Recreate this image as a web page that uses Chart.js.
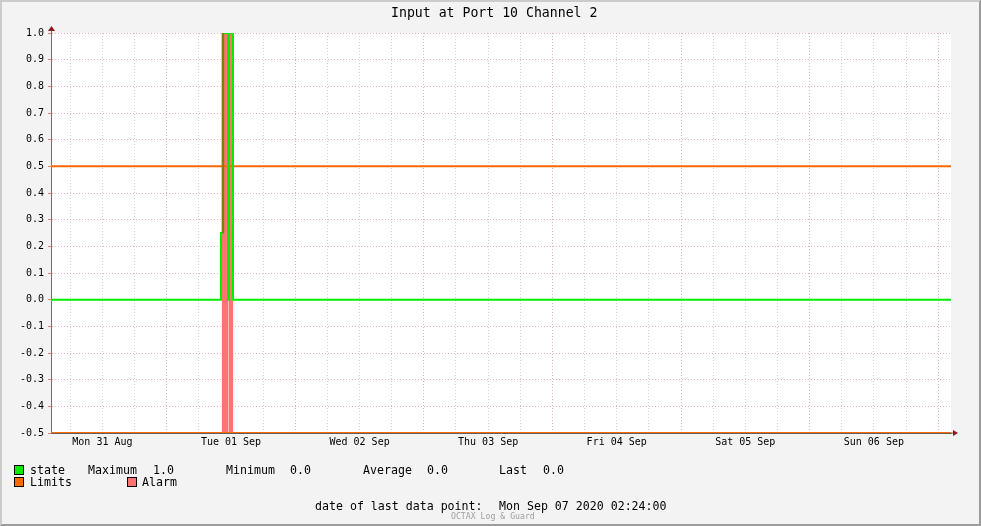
<!DOCTYPE html>
<html>
<head>
<meta charset="utf-8">
<script src="https://cdn.jsdelivr.net/npm/chart.js@4/dist/chart.umd.min.js"></script>
<style>
body { margin: 0; background: #f3f3f3; }
#frame { position: absolute; left: 0; top: 0; width: 981px; height: 526px; box-sizing: border-box;
  border-top: 2px solid #cbcbcb; border-left: 2px solid #cbcbcb; border-right: 2px solid #9c9c9c; border-bottom: 2px solid #9c9c9c; background: #f3f3f3; }
#chart { position: absolute; left: 0; top: 0; }
.t { position: absolute; font-family: "DejaVu Sans Mono", monospace; font-size: 11.6px; line-height: 14px; color: #000; white-space: pre; }
.box { position: absolute; width: 8px; height: 8px; border: 1px solid #000; }
</style>
</head>
<body>
<div id="frame"></div>
<canvas id="chart" width="981" height="526"></canvas>

<div class="t" style="left:391px;top:5px;font-size:13.2px;line-height:16px">Input at Port 10 Channel 2</div>

<div class="box" style="left:14px;top:465px;background:#00ee00"></div>
<div class="t" style="left:30px;top:463px">state</div>
<div class="t" style="left:88px;top:463px">Maximum</div>
<div class="t" style="left:153px;top:463px">1.0</div>
<div class="t" style="left:226px;top:463px">Minimum</div>
<div class="t" style="left:290px;top:463px">0.0</div>
<div class="t" style="left:363px;top:463px">Average</div>
<div class="t" style="left:427px;top:463px">0.0</div>
<div class="t" style="left:499px;top:463px">Last</div>
<div class="t" style="left:543px;top:463px">0.0</div>

<div class="box" style="left:14px;top:477px;background:#ff6a00"></div>
<div class="t" style="left:30px;top:475px">Limits</div>
<div class="box" style="left:127px;top:477px;background:#ff7373"></div>
<div class="t" style="left:142px;top:475px">Alarm</div>

<div class="t" style="left:315px;top:499px">date of last data point:</div>
<div class="t" style="left:499px;top:499px">Mon Sep 07 2020 02:24:00</div>
<div class="t" style="left:451px;top:511px;font-size:8.2px;line-height:10px;color:#a0a0a0">OCTAX Log &amp; Guard</div>

<script>
// hours since start of graph (Mon 31 Aug 02:24)
let stateHours = [0, 31.73, 32.1, 33.04, 33.23, 33.97, 168]
let stateValues = [0, 0.25, 1, 0, 1, 0, 0]

let oliveHours = [32.1, 32.1]
let oliveValues = [0.25, 1]

let alarmHours = [0, 31.9, 33.1, 33.2, 34.0, 168]
let alarmValues = [-0.5, 1, -0.5, 1, -0.5, -0.5]

let limitHours = [0, 168]
let upperLimit = [0.5, 0.5]
let lowerLimit = [-0.5, -0.5]

let dayLabels = ["Mon 31 Aug", "Tue 01 Sep", "Wed 02 Sep", "Thu 03 Sep", "Fri 04 Sep", "Sat 05 Sep", "Sun 06 Sep"]
let firstGridHour = 3.6 // 06:00 on Mon 31 Aug

function toPoints(xs, ys) {
  var pts = []
  for (var i = 0; i < xs.length; i++) {
    pts.push({x: xs[i], y: ys[i]})
  }
  return pts
}

var gridTicks = []
for (var k = 0; firstGridHour + 6 * k <= 168; k++) {
  gridTicks.push({value: firstGridHour + 6 * k})
}

const plotBg = {
  id: 'plotBg',
  beforeDraw(chart) {
    const {ctx, chartArea: a} = chart
    ctx.save()
    ctx.fillStyle = "#ffffff"
    ctx.fillRect(a.left, a.top, a.right - a.left, a.bottom - a.top)
    ctx.restore()
  },
  afterDraw(chart) {
    const {ctx, chartArea: a} = chart
    ctx.save()
    ctx.strokeStyle = "#707070"
    ctx.lineWidth = 1
    ctx.beginPath()
    ctx.moveTo(a.left + 0.5, a.top)
    ctx.lineTo(a.left + 0.5, a.top - 5)
    ctx.moveTo(a.right, a.bottom)
    ctx.lineTo(a.right + 3, a.bottom)
    ctx.stroke()
    ctx.fillStyle = "#8b1a1a"
    ctx.beginPath()
    ctx.moveTo(a.left - 3, a.top - 2)
    ctx.lineTo(a.left + 4, a.top - 2)
    ctx.lineTo(a.left + 0.5, a.top - 7)
    ctx.closePath()
    ctx.fill()
    ctx.beginPath()
    ctx.moveTo(a.right + 2, a.bottom - 3)
    ctx.lineTo(a.right + 2, a.bottom + 3)
    ctx.lineTo(a.right + 7, a.bottom)
    ctx.closePath()
    ctx.fill()
    ctx.restore()
  }
}

new Chart(document.getElementById("chart"), {
  type: 'line',
  data: {
    datasets: [
      { data: toPoints(oliveHours, oliveValues), borderColor: "#808000", borderWidth: 2.5, pointRadius: 0, fill: false },
      { data: toPoints(stateHours, stateValues), borderColor: "#00ee00", borderWidth: 2, stepped: 'before', pointRadius: 0, fill: false },
      { data: toPoints(limitHours, upperLimit), borderColor: "#ff6a00", borderWidth: 2, pointRadius: 0, fill: false },
      { data: toPoints(limitHours, lowerLimit), borderColor: "#ff6a00", borderWidth: 2, pointRadius: 0, fill: false },
      { data: toPoints(alarmHours, alarmValues), borderWidth: 0, borderColor: "rgba(0,0,0,0)", backgroundColor: "#ff7373", stepped: 'before', pointRadius: 0, fill: {value: -0.5} }
    ]
  },
  options: {
    responsive: false,
    animation: false,
    layout: { padding: { top: 33, right: 30, left: 0, bottom: 0 } },
    plugins: { legend: { display: false }, tooltip: { enabled: false } },
    scales: {
      x: {
        type: 'linear', min: 0, max: 168,
        afterFit: (s) => { s.height = 93 },
        afterBuildTicks: (s) => { s.ticks = gridTicks.slice() },
        grid: {
          drawTicks: false,
          color: (c) => (c.index % 4 == 3) ? "#e6b4b4" : "#d2d2d2",
          lineWidth: 1
        },
        border: { color: "#606060", width: 1, dash: [1, 2] },
        ticks: {
          padding: 3, autoSkip: false, maxRotation: 0, color: "#000",
          font: { family: "DejaVu Sans Mono", size: 10 },
          callback: function(v, i) { return (i % 4 == 1) ? dayLabels[(i - 1) / 4] : '' }
        }
      },
      y: {
        min: -0.5, max: 1.0,
        afterFit: (s) => { s.width = 51 },
        grid: { color: "#e6b4b4", tickColor: "#e08080", tickLength: 3, lineWidth: 1 },
        border: { color: "#707070", width: 1, dash: [1, 2] },
        ticks: {
          stepSize: 0.1, padding: 4, color: "#000",
          font: { family: "DejaVu Sans Mono", size: 10 },
          callback: function(v) { return Math.abs(v) < 1e-9 ? "0.0" : v.toFixed(1) }
        }
      }
    }
  },
  plugins: [plotBg]
});
</script>
</body>
</html>
